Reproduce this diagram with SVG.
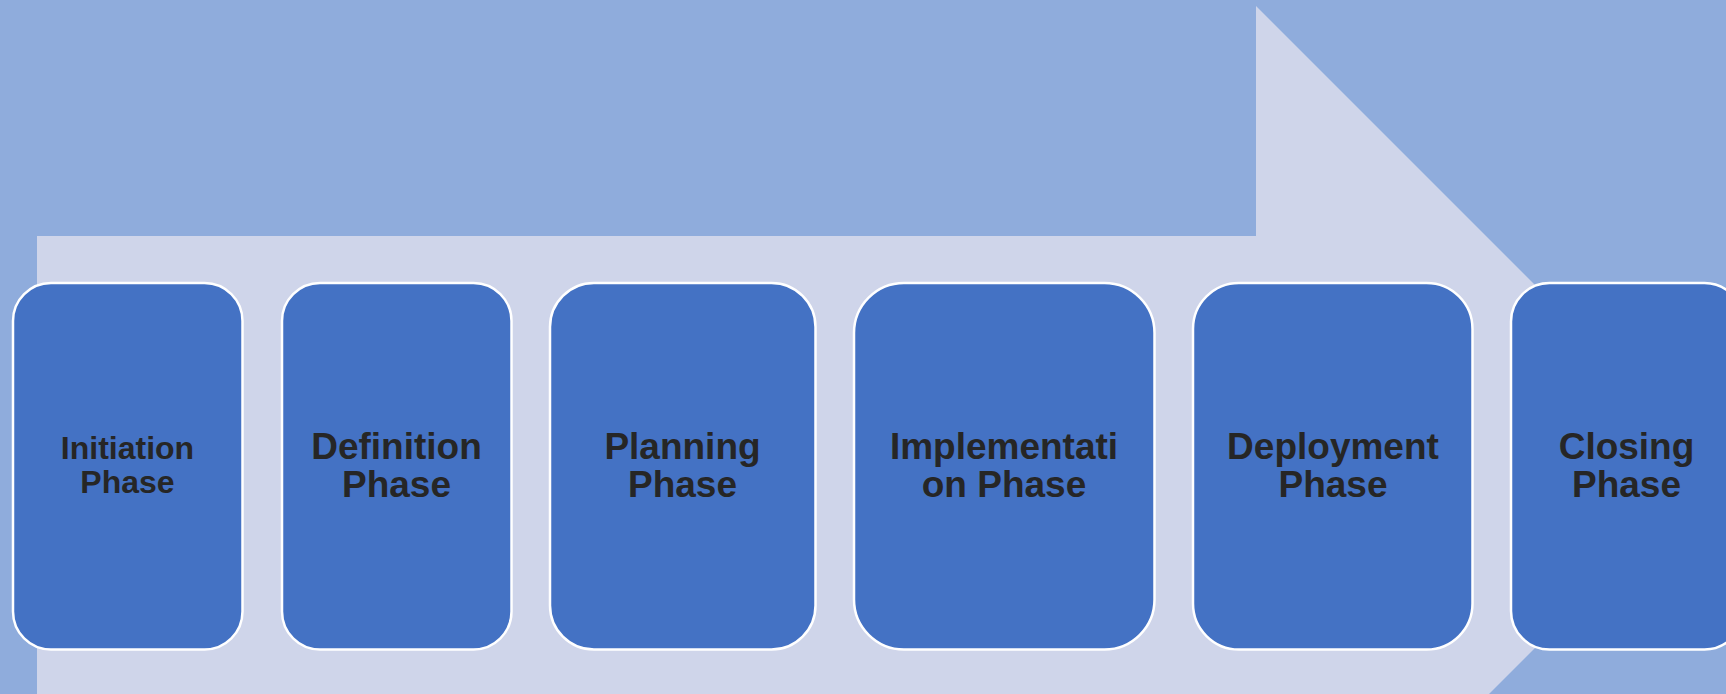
<svg xmlns="http://www.w3.org/2000/svg" width="1726" height="694" viewBox="0 0 1726 694">
  <style>
    .box { fill: #4472C4; stroke: #FFFFFF; stroke-width: 2.5; }
    .lbl { font-family: "Liberation Sans", Arial, sans-serif; font-weight: bold; fill: #262626; text-anchor: middle; }
    .big { font-size: 37px; }
    .small { font-size: 32px; }
  </style>
  <rect x="0" y="0" width="1726" height="694" fill="#8FACDC"/>
  <g id="arrow">
    <polygon points="37,236 1256,236 1256,6 1716.5,466.5 1256,927 1256,697 37,697" fill="#CFD5EA"/>
  </g>
  <g id="connectors"></g>
  <g id="node-initiation">
    <rect class="box" x="13" y="283" width="229.5" height="366.5" rx="38" ry="38"/>
    <text class="lbl small" x="127.5" y="459">Initiation</text>
    <text class="lbl small" x="127.5" y="492.5">Phase</text>
  </g>
  <g id="node-definition">
    <rect class="box" x="282" y="283" width="229.5" height="366.5" rx="38" ry="38"/>
    <text class="lbl big" x="396.5" y="458.5">Definition</text>
    <text class="lbl big" x="396.5" y="496.5">Phase</text>
  </g>
  <g id="node-planning">
    <rect class="box" x="550" y="283" width="265.5" height="366.5" rx="44" ry="44"/>
    <text class="lbl big" x="682.5" y="458.5">Planning</text>
    <text class="lbl big" x="682.5" y="496.5">Phase</text>
  </g>
  <g id="node-implementation">
    <rect class="box" x="854" y="283" width="300.5" height="366.5" rx="50" ry="50"/>
    <text class="lbl big" x="1004" y="458.5">Implementati</text>
    <text class="lbl big" x="1004" y="496.5">on Phase</text>
  </g>
  <g id="node-deployment">
    <rect class="box" x="1193" y="283" width="279.5" height="366.5" rx="46" ry="46"/>
    <text class="lbl big" x="1333" y="458.5">Deployment</text>
    <text class="lbl big" x="1333" y="496.5">Phase</text>
  </g>
  <g id="node-closing">
    <rect class="box" x="1511" y="283" width="232" height="366.5" rx="38.5" ry="38.5"/>
    <text class="lbl big" x="1626.5" y="458.5">Closing</text>
    <text class="lbl big" x="1626.5" y="496.5">Phase</text>
  </g>
</svg>
